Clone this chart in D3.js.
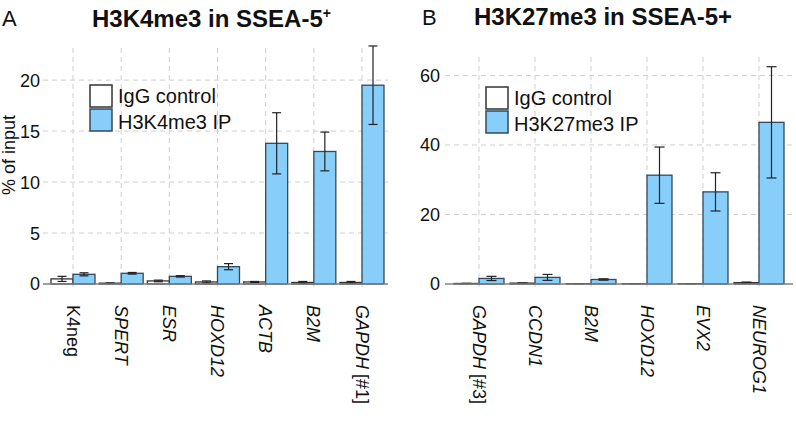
<!DOCTYPE html>
<html><head><meta charset="utf-8">
<script src="https://cdn.jsdelivr.net/npm/d3@7"></script>
<style>
html,body{margin:0;padding:0;background:#fff;}
svg{display:block;font-family:"Liberation Sans",Arial,Helvetica,sans-serif;}
</style></head>
<body>
<svg id="chart" width="796" height="422"></svg>
<script>
// ---- Data ----
const leftCats = ["K4neg","SPERT","ESR","HOXD12","ACTB","B2M","GAPDH"];
const leftSuffix = ["","","","","",""," [#1]"];
const leftItalic = [false,true,true,true,true,true,true];
const leftIgG    = [0.5, 0.08, 0.3, 0.2, 0.2, 0.15, 0.15];
const leftIgGErr = [0.25, 0.02, 0.08, 0.1, 0.05, 0.1, 0.1];
const leftIP     = [0.95, 1.05, 0.75, 1.7, 13.8, 13.0, 19.5];
const leftIPErr  = [0.15, 0.08, 0.07, 0.3, 3.0, 1.9, 3.85];
const leftTicks  = [0, 5, 10, 15, 20];

const rightCats = ["GAPDH","CCDN1","B2M","HOXD12","EVX2","NEUROG1"];
const rightSuffix = [" [#3]","","","","",""];
const rightItalic = [true,true,true,true,true,true];
const rightIgG    = [0.15, 0.25, 0.1, 0.1, 0.1, 0.4];
const rightIgGErr = [0.05, 0.05, 0.02, 0.02, 0.02, 0.15];
const rightIP     = [1.6, 1.9, 1.3, 31.3, 26.5, 46.5];
const rightIPErr  = [0.6, 0.85, 0.2, 8.1, 5.5, 16];
const rightTicks  = [0, 20, 40, 60];

const BLUE = "#87cefa";
const svg = d3.select("#chart");

function panel(cfg) {
  const g = svg.append("g");
  const y = d3.scaleLinear().domain([0, cfg.yMax]).range([cfg.y0, cfg.yTop]);
  const x = d3.scalePoint().domain(cfg.cats.map((c,i)=>i)).range([cfg.xFirst, cfg.xLast]);
  // horizontal grid
  g.selectAll(".hg").data(cfg.ticks.filter(t=>t>0)).enter().append("line")
    .attr("x1", cfg.gridLeft).attr("x2", cfg.axisRight)
    .attr("y1", d=>y(d)).attr("y2", d=>y(d))
    .attr("stroke", "#cfcfcf").attr("stroke-width", 1).attr("stroke-dasharray", "5,4");
  // vertical grid
  g.selectAll(".vg").data(cfg.cats.map((c,i)=>i)).enter().append("line")
    .attr("x1", d=>x(d)).attr("x2", d=>x(d))
    .attr("y1", cfg.yTop).attr("y2", cfg.y0 + 6)
    .attr("stroke", "#cfcfcf").attr("stroke-width", 1).attr("stroke-dasharray", "5,4");
  // y tick labels
  g.selectAll(".yt").data(cfg.ticks).enter().append("text")
    .attr("x", cfg.tickRight).attr("y", d=>y(d)).attr("dy", "0.36em")
    .attr("text-anchor", "end").attr("font-size", 18).attr("fill", "#111")
    .text(d=>d);
  const bw = cfg.bw;
  const idx = cfg.cats.map((c,i)=>i);
  // IgG bars
  g.selectAll(".igg").data(idx).enter().append("rect")
    .attr("x", i=>x(i)-bw).attr("width", bw)
    .attr("y", i=>y(cfg.igg[i])).attr("height", i=>y(0)-y(cfg.igg[i]))
    .attr("fill", "#fff").attr("stroke", "#333").attr("stroke-width", 1.3);
  // IP bars
  g.selectAll(".ip").data(idx).enter().append("rect")
    .attr("x", i=>x(i)).attr("width", bw)
    .attr("y", i=>y(cfg.ip[i])).attr("height", i=>y(0)-y(cfg.ip[i]))
    .attr("fill", BLUE).attr("stroke", "#34495a").attr("stroke-width", 1.3);
  // error bars
  function err(vals, errs, off) {
    const eg = g.selectAll(null).data(idx).enter().append("g").attr("stroke", "#222").attr("stroke-width", 1.2);
    const cx = i => x(i) + off;
    eg.append("line").attr("x1", cx).attr("x2", cx)
      .attr("y1", i=>y(vals[i]+errs[i])).attr("y2", i=>y(Math.max(0, vals[i]-errs[i])));
    eg.append("line").attr("x1", i=>cx(i)-cfg.cap/2).attr("x2", i=>cx(i)+cfg.cap/2)
      .attr("y1", i=>y(vals[i]+errs[i])).attr("y2", i=>y(vals[i]+errs[i]));
    eg.append("line").attr("x1", i=>cx(i)-cfg.cap/2).attr("x2", i=>cx(i)+cfg.cap/2)
      .attr("y1", i=>y(Math.max(0, vals[i]-errs[i]))).attr("y2", i=>y(Math.max(0, vals[i]-errs[i])));
  }
  err(cfg.igg, cfg.iggErr, -bw/2);
  err(cfg.ip, cfg.ipErr, bw/2);
  // x axis line
  g.append("line").attr("x1", cfg.axisLeft).attr("x2", cfg.axisRight)
    .attr("y1", y(0)).attr("y2", y(0)).attr("stroke", "#808080").attr("stroke-width", 1.6);
  // category labels
  const lab = g.selectAll(".xl").data(idx).enter().append("text")
    .attr("transform", i=>`translate(${x(i)},${cfg.labelTop}) rotate(90)`)
    .attr("dy", "0.36em").attr("text-anchor", "start").attr("font-size", 18).attr("fill", "#111");
  lab.append("tspan").attr("font-style", i=>cfg.italic[i] ? "italic" : "normal").text(i=>cfg.cats[i]);
  lab.append("tspan").text(i=>cfg.suffix[i]);
  // legend
  const lg = g.append("g");
  lg.append("rect").attr("x", cfg.legX).attr("y", cfg.legY).attr("width", 22).attr("height", 22)
    .attr("fill", "#fff").attr("stroke", "#333").attr("stroke-width", 1.5);
  lg.append("rect").attr("x", cfg.legX).attr("y", cfg.legY + 24).attr("width", 22).attr("height", 22)
    .attr("fill", BLUE).attr("stroke", "#34495a").attr("stroke-width", 1.5);
  lg.append("text").attr("x", cfg.legX + 28).attr("y", cfg.legY + 18).attr("font-size", 20).attr("fill", "#111").text("IgG control");
  lg.append("text").attr("x", cfg.legX + 28).attr("y", cfg.legY + 44).attr("font-size", 20).attr("fill", "#111").text(cfg.ipName);
}

panel({
  cats: leftCats, suffix: leftSuffix, italic: leftItalic,
  igg: leftIgG, iggErr: leftIgGErr, ip: leftIP, ipErr: leftIPErr, ticks: leftTicks,
  yMax: 23.15, y0: 284, yTop: 48, xFirst: 73, xLast: 362, bw: 22, cap: 9,
  gridLeft: 43, axisLeft: 43, axisRight: 388, tickRight: 40, labelTop: 305,
  legX: 90, legY: 85, ipName: "H3K4me3 IP"
});
panel({
  cats: rightCats, suffix: rightSuffix, italic: rightItalic,
  igg: rightIgG, iggErr: rightIgGErr, ip: rightIP, ipErr: rightIPErr, ticks: rightTicks,
  yMax: 65.3, y0: 284, yTop: 57, xFirst: 479, xLast: 759, bw: 25, cap: 10,
  gridLeft: 445, axisLeft: 445, axisRight: 793, tickRight: 440, labelTop: 305,
  legX: 486, legY: 87, ipName: "H3K27me3 IP"
});

// titles and panel letters
svg.append("text").attr("x", 2).attr("y", 26).attr("font-size", 22).attr("fill", "#111").text("A");
const t1 = svg.append("text").attr("x", 92).attr("y", 27).attr("font-size", 24).attr("font-weight", "bold").attr("fill", "#111");
t1.append("tspan").text("H3K4me3 in SSEA-5");
t1.append("tspan").attr("font-size", 14).attr("dy", -9).text("+");
svg.append("text").attr("x", 422).attr("y", 25).attr("font-size", 22).attr("fill", "#111").text("B");
svg.append("text").attr("x", 474).attr("y", 25).attr("font-size", 24).attr("font-weight", "bold").attr("fill", "#111").text("H3K27me3 in SSEA-5+");

// y axis label
svg.append("text").attr("transform", "translate(15,155) rotate(-90)").attr("text-anchor", "middle")
  .attr("font-size", 18).attr("fill", "#111").text("% of input");
</script>
</body></html>
